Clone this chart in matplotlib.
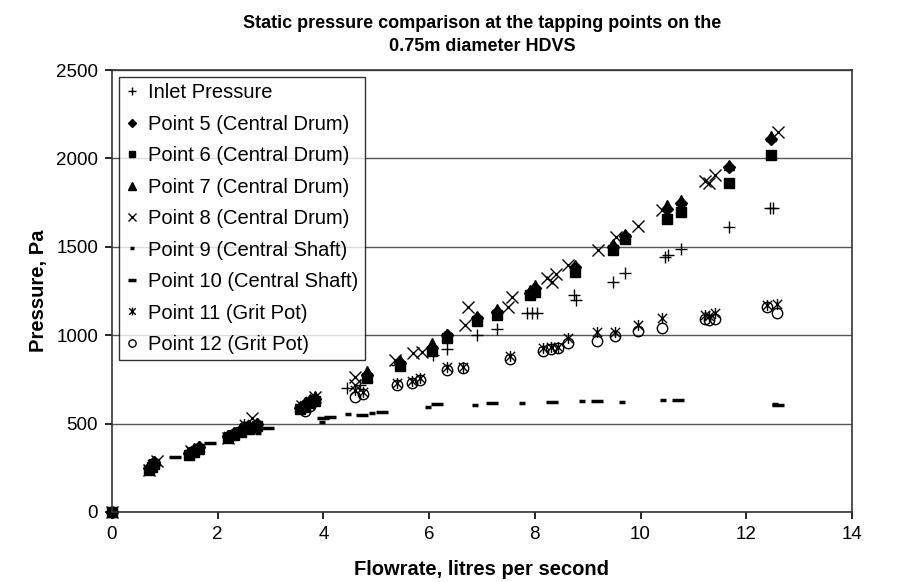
import matplotlib
matplotlib.use("Agg")
import matplotlib.pyplot as plt
from matplotlib.path import Path

plt.rcParams["font.family"] = ["Liberation Sans", "DejaVu Sans"]

# flowrate (l/s) and static pressure (Pa)
inlet_q = [0, 0.72, 0.82, 1.45, 1.6, 2.2, 2.45, 2.7, 3.6, 3.8, 4.45, 4.7, 5.4, 6.07,
           6.33, 6.9, 7.28, 7.85, 7.95, 8.05, 8.74, 8.78, 9.48, 9.7, 10.46, 10.52,
           10.76, 11.67, 12.45, 12.5]
inlet_p = [0, 250, 265, 330, 350, 430, 460, 480, 600, 615, 700, 720, 830, 888,
           920, 1000, 1035, 1125, 1125, 1128, 1227, 1200, 1300, 1352, 1442, 1455,
           1487, 1612, 1720, 1720]

drum_q = [0, 0.7, 0.75, 0.8, 1.45, 1.55, 1.65, 2.2, 2.3, 2.45, 2.6, 2.75, 3.55,
          3.65, 3.75, 3.85, 4.82, 5.45, 6.05, 6.33, 6.9, 7.28, 7.9, 8.0, 8.76,
          9.48, 9.7, 10.5, 10.76, 11.67, 12.47]
p5 = [0, 250, 265, 280, 335, 350, 365, 430, 445, 465, 480, 495, 590, 610, 630,
      640, 775, 840, 930, 1000, 1095, 1130, 1240, 1265, 1385, 1500, 1560, 1715,
      1745, 1950, 2110]
p6 = [0, 240, 255, 270, 325, 340, 355, 420, 435, 455, 470, 485, 580, 595, 615,
      625, 760, 825, 910, 985, 1080, 1115, 1225, 1245, 1357, 1482, 1544, 1657,
      1697, 1860, 2020]
p7 = [0, 255, 270, 290, 340, 360, 375, 435, 450, 470, 490, 505, 600, 620, 640,
      655, 795, 860, 955, 1005, 1110, 1150, 1255, 1285, 1395, 1515, 1570, 1735,
      1765, 1960, 2125]

p8_q = [0, 0.7, 0.85, 1.5, 2.2, 2.65, 3.6, 3.85, 4.6, 4.6, 5.35, 5.69, 5.86, 6.68,
        6.73, 7.5, 7.57, 8.23, 8.32, 8.4, 8.63, 9.2, 9.53, 9.95, 10.4, 11.22,
        11.3, 11.4, 12.6]
p8 = [0, 235, 290, 345, 420, 530, 600, 650, 764, 718, 860, 900, 905, 1057, 1160,
      1160, 1216, 1323, 1300, 1346, 1397, 1482, 1555, 1618, 1708, 1872, 1860,
      1906, 2150]

p9_q = [0, 0.75, 1.5, 2.76, 3.97, 4.46, 4.92, 5.98, 6.87, 7.75, 8.9, 9.65, 10.42,
        12.55]
p9 = [0, 260, 350, 447, 509, 554, 560, 594, 605, 616, 628, 622, 633, 611]
p10_q = [0, 0.8, 1.19, 1.85, 2.5, 2.95, 4.0, 4.12, 4.73, 5.1, 6.15, 7.19, 8.32,
         9.17, 10.7, 12.6]
p10 = [0, 270, 311, 390, 460, 475, 532, 537, 548, 566, 611, 616, 622, 628, 633, 605]

grit_q = [0, 0.75, 1.5, 2.2, 2.5, 3.65, 3.75, 4.6, 4.75, 5.39, 5.68, 5.83, 6.33,
          6.64, 7.53, 8.15, 8.3, 8.44, 8.63, 9.17, 9.52, 9.95, 10.4, 11.22, 11.3,
          11.4, 12.4, 12.58]
p11 = [0, 270, 345, 430, 500, 600, 630, 690, 680, 730, 740, 760, 820, 820, 880,
       930, 935, 935, 985, 1018, 1018, 1058, 1097, 1115, 1110, 1125, 1170, 1175]
p12 = [0, 255, 335, 425, 480, 570, 600, 650, 665, 720, 730, 745, 805, 812, 865,
       910, 920, 925, 956, 968, 995, 1024, 1040, 1090, 1085, 1090, 1160, 1125]

labels = ["Inlet Pressure", "Point 5 (Central Drum)", "Point 6 (Central Drum)",
          "Point 7 (Central Drum)", "Point 8 (Central Drum)",
          "Point 9 (Central Shaft)", "Point 10 (Central Shaft)",
          "Point 11 (Grit Pot)", "Point 12 (Grit Pot)"]

# excel style star: an x with a vertical bar through it
star = Path([(-1, -1), (1, 1), (-1, 1), (1, -1), (0, -1.2), (0, 1.2)],
            [Path.MOVETO, Path.LINETO, Path.MOVETO, Path.LINETO,
             Path.MOVETO, Path.LINETO])

fig = plt.figure(figsize=(9.01, 5.82), dpi=100)
ax = fig.add_axes([0.1243, 0.1203, 0.8213, 0.7594])

k = dict(linestyle="none", color="black", clip_on=False)
ax.plot(inlet_q, inlet_p, marker="+", markersize=9, markeredgewidth=1.0, label=labels[0], **k)
ax.plot(drum_q, p5, marker="D", markersize=6, label=labels[1], **k)
ax.plot(drum_q, p6, marker="s", markersize=6.5, label=labels[2], **k)
ax.plot(drum_q, p7, marker="^", markersize=7.5, label=labels[3], **k)
ax.plot(p8_q, p8, marker="x", markersize=8.5, markeredgewidth=1.0, label=labels[4], **k)
ax.plot(p9_q, p9, marker="_", markersize=5, markeredgewidth=2.5, label=labels[5], **k)
ax.plot(p10_q, p10, marker="_", markersize=9, markeredgewidth=2.5, label=labels[6], **k)
ax.plot(grit_q, p11, marker=star, markersize=8, markeredgewidth=1.0, label=labels[7], **k)
ax.plot(grit_q, p12, marker="o", markersize=7.5, markerfacecolor="none",
        markeredgewidth=1.0, label=labels[8], **k)

ax.set_xlim(0, 14)
ax.set_ylim(0, 2500)
ax.set_xticks(range(0, 15, 2))
ax.set_yticks(range(0, 2501, 500))
ax.yaxis.grid(True, color="#555555", linewidth=1)
ax.set_axisbelow(True)
for s in ax.spines.values():
    s.set_color("#333333")
    s.set_linewidth(1.2)
ax.tick_params(labelsize=13.5, length=5, width=1.2, direction="out", pad=5)

ax.set_title("Static pressure comparison at the tapping points on the\n0.75m diameter HDVS",
             fontsize=13, fontweight="bold", pad=14, linespacing=1.45)
ax.set_xlabel("Flowrate, litres per second", fontsize=14.5, fontweight="bold", labelpad=12)
ax.set_ylabel("Pressure, Pa", fontsize=14.5, fontweight="bold", labelpad=6)

leg = ax.legend(loc="upper left", bbox_to_anchor=(0.0, 1.0), fontsize=14.5,
                frameon=True, fancybox=False, edgecolor="black", handlelength=0.7,
                handletextpad=0.45, labelspacing=0.62, borderpad=0.3,
                borderaxespad=0.35, markerscale=0.7)
leg.get_frame().set_linewidth(1.0)

fig.savefig("out.png", dpi=100, facecolor="white")
